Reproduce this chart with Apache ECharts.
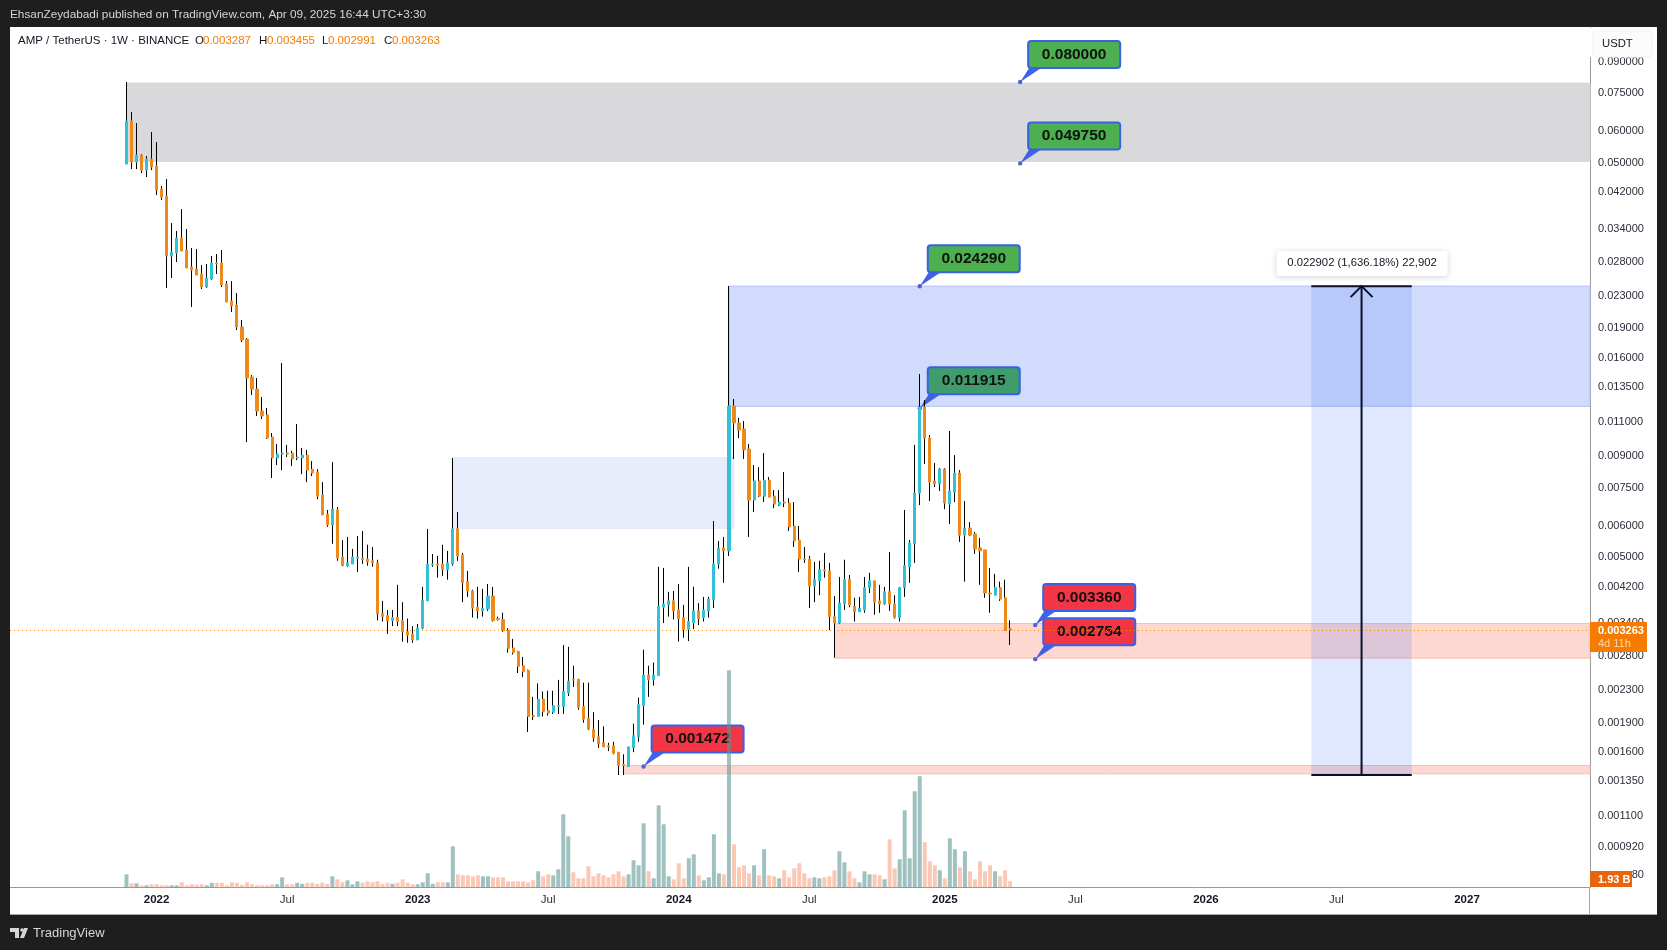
<!DOCTYPE html>
<html>
<head>
<meta charset="utf-8">
<title>AMP / TetherUS</title>
<style>
  html, body { margin: 0; height: 100%; background: #1e1e1e; overflow: hidden; }
  #chart-container { width: 1667px; height: 950px; }
</style>
</head>
<body>
<div id="chart-container"></div>
<script src="https://cdn.jsdelivr.net/npm/echarts@6/dist/echarts.min.js"></script>
<script>
// weekly candles
var opens = [
  0.04956,0.0637,0.05014,0.05222,0.04785,0.05102,0.04898,0.04283,0.04111,0.02897,
  0.02948,0.03218,0.03,0.02717,0.02685,0.02608,0.02418,0.02533,0.02781,0.02781,
  0.02461,0.02228,0.02176,0.01914,0.01784,0.01429,0.01332,0.01172,0.01146,0.01007,
  0.00891,0.00912,0.00917,0.00917,0.00891,0.00891,0.00906,0.00835,0.00821,0.00718,
  0.00642,0.00603,0.00658,0.005,0.00475,0.0048,0.00497,0.00497,0.00494,0.00489,
  0.00483,0.00359,0.00355,0.00345,0.00351,0.00345,0.00323,0.00319,0.00308,0.0033,
  0.00387,0.00477,0.0048,0.0048,0.00464,0.0048,0.00589,0.00506,0.00433,0.0041,
  0.00373,0.00365,0.00369,0.00398,0.00349,0.00347,0.00326,0.00294,0.00288,0.00265,
  0.00258,0.00198,0.00197,0.00218,0.00204,0.00202,0.00209,0.00209,0.00226,0.00245,
  0.00245,0.00209,0.00195,0.00183,0.00175,0.00169,0.00166,0.00166,0.0016,0.00149,
  0.00147,0.00164,0.00175,0.0021,0.00251,0.00244,0.0025,0.00373,0.00378,0.00387,
  0.00367,0.00351,0.00328,0.0034,0.00365,0.00351,0.00365,0.00389,0.0048,0.00527,
  0.00518,0.01207,0.01093,0.01055,0.00939,0.00697,0.00779,0.00713,0.00783,0.00713,
  0.00677,0.00689,0.00685,0.00599,0.00552,0.00494,0.00494,0.00422,0.00435,0.00464,
  0.00461,0.00353,0.0034,0.0038,0.00438,0.00375,0.00363,0.00367,0.00418,0.00435,
  0.00387,0.0038,0.00408,0.0038,0.00351,0.00418,0.00472,0.0054,0.00726,0.012,
  0.01001,0.00779,0.00766,0.00835,0.00681,0.0073,0.00816,0.00568,0.00592,0.00572,
  0.00527,0.00521,0.00405,0.004,0.00418,0.00394,0.003287
];
var highs = [
  0.08,0.06713,0.06295,0.05253,0.05192,0.05973,0.05634,0.04359,0.0454,0.03512,
  0.03352,0.03811,0.03391,0.03035,0.03017,0.02749,0.02765,0.02897,0.02931,0.03,
  0.02503,0.02503,0.02334,0.01994,0.01795,0.01446,0.01421,0.01272,0.01193,0.01031,
  0.00967,0.01551,0.00962,0.00929,0.01087,0.00945,0.00934,0.00875,0.00835,0.00774,
  0.00658,0.0087,0.00669,0.00552,0.00562,0.00524,0.00565,0.00582,0.00537,0.0053,
  0.00492,0.00387,0.00367,0.00367,0.00425,0.00384,0.00349,0.00334,0.00338,0.0042,
  0.00589,0.00509,0.00503,0.00537,0.00518,0.00891,0.0065,0.00512,0.00461,0.00413,
  0.0042,0.00415,0.00427,0.0042,0.00353,0.00361,0.0033,0.0031,0.00289,0.00279,
  0.00259,0.00221,0.00239,0.00228,0.00229,0.00229,0.00244,0.00299,0.00296,0.00265,
  0.00245,0.0024,0.0024,0.00202,0.00193,0.00186,0.00169,0.0017,0.0016,0.00158,
  0.00165,0.00189,0.0022,0.00291,0.00265,0.0027,0.00472,0.00469,0.00408,0.0041,
  0.00427,0.00378,0.00472,0.0042,0.00382,0.00396,0.00396,0.00617,0.00549,0.00562,
  0.02432,0.01257,0.01126,0.01106,0.00967,0.00855,0.00845,0.00917,0.00797,0.00739,
  0.00739,0.00821,0.00705,0.00689,0.00599,0.0053,0.00503,0.00486,0.00489,0.00512,
  0.00483,0.00398,0.00445,0.00492,0.0045,0.00394,0.00396,0.00445,0.00456,0.00435,
  0.00425,0.0042,0.00515,0.004,0.0042,0.00658,0.00552,0.00962,0.01455,0.0125,
  0.01019,0.00865,0.0084,0.0084,0.01043,0.00906,0.0083,0.00693,0.00613,0.00579,
  0.00559,0.00521,0.00469,0.00453,0.00433,0.00438,0.003455
];
var lows = [
  0.04956,0.04813,0.04813,0.04702,0.04594,0.04785,0.04135,0.04017,0.02404,0.02548,
  0.02797,0.02982,0.02701,0.02151,0.02592,0.0239,0.02404,0.02518,0.02608,0.02418,
  0.02214,0.02089,0.01881,0.01753,0.00978,0.01287,0.01139,0.01119,0.00996,0.00793,
  0.00855,0.0083,0.00896,0.0085,0.0088,0.00811,0.00774,0.00802,0.00701,0.00639,
  0.00596,0.0054,0.00489,0.00475,0.00472,0.0048,0.00458,0.0048,0.00475,0.00472,
  0.00345,0.00343,0.00319,0.00334,0.00334,0.00305,0.00303,0.00303,0.00308,0.00328,
  0.00387,0.00472,0.00443,0.00448,0.00438,0.00475,0.00489,0.00384,0.00396,0.00351,
  0.00349,0.00353,0.00365,0.00343,0.00345,0.00323,0.00286,0.00283,0.00254,0.00248,
  0.0018,0.00193,0.00197,0.00197,0.00198,0.002,0.002,0.002,0.00222,0.00234,
  0.00205,0.0019,0.00182,0.0017,0.00164,0.00165,0.00161,0.00158,0.0014,0.0014,
  0.00147,0.0016,0.0017,0.00188,0.00221,0.00236,0.0025,0.0034,0.00353,0.00347,
  0.00305,0.00312,0.00306,0.00328,0.00336,0.00343,0.00351,0.00371,0.00467,0.0043,
  0.00503,0.00886,0.01001,0.00886,0.00562,0.0065,0.00709,0.00689,0.00709,0.00665,
  0.00673,0.00669,0.00582,0.0053,0.00458,0.00483,0.00371,0.00384,0.004,0.00443,
  0.00326,0.00278,0.00338,0.00367,0.00373,0.00343,0.00363,0.00361,0.00405,0.00357,
  0.00361,0.00378,0.00365,0.00349,0.00343,0.00396,0.0043,0.00483,0.00677,0.0086,
  0.00693,0.00752,0.00735,0.00661,0.00606,0.00689,0.00546,0.00433,0.00565,0.00509,
  0.00425,0.00394,0.00361,0.004,0.00387,0.00325,0.002991
];
var closes = [
  0.0637,0.05014,0.05222,0.04785,0.05102,0.0487,0.04258,0.04087,0.02897,0.02965,
  0.03218,0.02982,0.02701,0.0267,0.02592,0.02418,0.02548,0.02781,0.02765,0.02446,
  0.02214,0.02164,0.01914,0.01774,0.01421,0.01332,0.01172,0.01139,0.01001,0.00891,
  0.00912,0.00917,0.00912,0.00886,0.00896,0.00906,0.0083,0.00816,0.00713,0.00639,
  0.00603,0.00661,0.00497,0.00475,0.00483,0.005,0.005,0.00492,0.00486,0.00483,
  0.00359,0.00353,0.00345,0.00351,0.00343,0.00323,0.00317,0.00308,0.0033,0.00389,
  0.0048,0.0048,0.00477,0.00464,0.00483,0.00589,0.00503,0.0043,0.0041,0.00371,
  0.00365,0.00371,0.00398,0.00345,0.00347,0.00325,0.00293,0.00286,0.00264,0.00256,
  0.00197,0.00197,0.00218,0.00203,0.00201,0.0021,0.0021,0.00228,0.00242,0.00244,
  0.00208,0.00194,0.00183,0.00174,0.00168,0.00165,0.00165,0.00159,0.00148,0.00148,
  0.00165,0.00176,0.00211,0.00251,0.00244,0.00251,0.00375,0.0038,0.00387,0.00365,
  0.00349,0.00328,0.00343,0.00365,0.00349,0.00367,0.00391,0.0048,0.00527,0.00518,
  0.01207,0.01093,0.01049,0.00934,0.00697,0.00779,0.00713,0.00783,0.00709,0.00681,
  0.00689,0.00685,0.00596,0.00549,0.00494,0.00492,0.00422,0.00438,0.00464,0.00461,
  0.00353,0.0034,0.00382,0.00438,0.00378,0.00363,0.00371,0.00418,0.00435,0.00384,
  0.0038,0.00408,0.0038,0.00351,0.00418,0.00475,0.00543,0.00726,0.012,0.01001,
  0.00774,0.00766,0.00835,0.00685,0.00735,0.00816,0.00568,0.00592,0.00568,0.00524,
  0.00518,0.00405,0.00403,0.00418,0.00391,0.00326,0.003263
];
// volume in billions
var volumes = [
  4.16,1.28,1.28,0.64,0.64,0.96,0.96,0.64,0.64,0.64,
  0.64,1.6,0.64,0.96,0.8,0.96,0.64,1.44,1.44,1.44,
  0.64,1.6,1.44,0.8,1.6,0.96,0.64,0.64,0.64,0.96,
  0.96,3.2,0.96,0.96,1.44,1.12,1.44,1.44,1.12,1.44,
  1.12,3.52,2.56,1.6,2.24,0.96,1.92,1.44,1.92,1.6,
  1.92,1.12,1.44,1.12,1.44,2.56,1.44,0.96,0.96,1.6,
  4.48,1.12,1.6,1.6,1.6,13.12,4.16,3.84,3.84,3.52,
  3.84,3.52,3.52,3.2,3.2,3.2,1.92,1.92,1.92,1.92,
  1.6,2.24,5.12,3.52,4.16,3.84,5.76,23.36,16.32,4.8,
  2.88,2.88,6.72,3.52,4.48,3.84,3.2,4.16,5.12,3.52,
  4.16,8.64,7.04,20.48,5.12,2.88,26.24,20.16,3.52,2.56,
  7.68,2.88,9.28,10.56,3.84,2.24,3.2,16.96,4.48,4.16,
  69.44,13.76,6.4,7.04,4.48,7.04,3.84,12.16,3.84,3.52,
  2.88,5.44,3.2,6.08,7.68,4.48,2.88,3.2,2.88,3.2,
  3.52,5.44,11.52,8,5.12,2.88,1.6,5.12,4.16,4.16,
  3.84,2.56,15.36,6.08,8.96,24.64,9.28,30.72,35.52,14.4,
  8.32,7.04,5.44,2.88,15.68,12.16,6.4,11.52,5.12,2.56,
  8.32,5.12,7.04,5.12,3.52,5.44,1.93
];
var priceTicks = [0.09,0.075,0.06,0.05,0.042,0.034,0.028,0.023,0.019,0.016,0.0135,0.011,0.009,0.0075,0.006,0.005,0.0042,0.0034,0.0028,0.0023,0.0019,0.0016,0.00135,0.0011,0.00092,0.00078];
var timeTicks = {
  "2022-01-03": "2022", "2022-07-04": "Jul", "2023-01-02": "2023", "2023-07-03": "Jul",
  "2024-01-01": "2024", "2024-07-01": "Jul", "2025-01-06": "2025", "2025-07-07": "Jul",
  "2026-01-05": "2026", "2026-07-06": "Jul", "2027-01-04": "2027"
};
var lastClose = 0.003263;

// weekly slots: 23 empty before the first candle, empty ones after the last
var leadWeeks = 23;
var totalWeeks = 315;
var firstWeek = Date.UTC(2021, 10, 22);
var categories = [];
for (var w = 0; w < totalWeeks; w++) {
  categories.push(new Date(firstWeek + (w - leadWeeks) * 7 * 864e5).toISOString().slice(0, 10));
}
function week(c) { return categories[c + leadWeeks]; }

// drawings: [first candle slot, top price, bottom price]
var zones = [
  { from: 0, top: 0.0795, bottom: 0.0503, fill: "#d9d9dc", line: "#d9d9dc" },
  { from: 120, top: 0.0243, bottom: 0.01205, fill: "#d1dbfb", line: "#b3bdf2" },
  { from: 65, to: 121, top: 0.00892, bottom: 0.00591, fill: "#e8edfb", line: "#e2e7f9" },
  { from: 141, top: 0.00339, bottom: 0.00277, fill: "#fdd8d0", line: "#f6c0b4" },
  { from: 99, top: 0.00148, bottom: 0.00141, fill: "#fdd8d0", line: "#f6c0b4" }
];
var measure = { from: 236, to: 256, mid: 246, top: 0.0243, bottom: 0.0014, text: "0.022902 (1,636.18%) 22,902" };
var callouts = [
  { text: "0.080000", slot: 178, price: 0.08, fill: "#4caf50" },
  { text: "0.049750", slot: 178, price: 0.04975, fill: "#4caf50" },
  { text: "0.024290", slot: 158, price: 0.02429, fill: "#4caf50" },
  { text: "0.011915", slot: 158, price: 0.011915, fill: "#3f9c6b" },
  { text: "0.003360", slot: 181, price: 0.00336, fill: "#f23645" },
  { text: "0.002754", slot: 181, price: 0.002754, fill: "#f23645" },
  { text: "0.001472", slot: 103, price: 0.001472, fill: "#f23645" }
];

var UP = "#33c1d6";
var DOWN = "#ee8a1c";
var FONT = '"Liberation Sans", Arial, sans-serif';

// leading empty slots so every candle lands on its own week
function padded(list, empty) {
  var lead = [];
  for (var i = 0; i < leadWeeks; i++) lead.push(empty);
  return lead.concat(list);
}
var noCandle = ["-", "-", "-", "-"];
var wickData = padded(opens.map(function (o, i) {
  return [o, closes[i], lows[i], highs[i]];
}), noCandle);
var bodyData = padded(opens.map(function (o, i) {
  return [o, closes[i], Math.min(o, closes[i]), Math.max(o, closes[i])];
}), noCandle);
var volumeData = padded(volumes.map(function (v, i) {
  return {
    value: v,
    itemStyle: { color: closes[i] >= opens[i] ? "rgba(90,150,146,0.58)" : "rgba(244,140,100,0.48)" }
  };
}), "-");

var zoneAreas = zones.map(function (z) {
  var end = z.to != null ? { xAxis: week(z.to), yAxis: z.bottom } : { yAxis: z.bottom };
  return [
    { xAxis: week(z.from), yAxis: z.top, itemStyle: { color: z.fill, borderColor: z.line, borderWidth: 1 } },
    end
  ];
});
zoneAreas.push([
  { xAxis: week(measure.from), yAxis: measure.top, itemStyle: { color: "rgba(41,98,255,0.15)" } },
  { xAxis: week(measure.to), yAxis: measure.bottom }
]);

var dom = document.getElementById("chart-container");
var myChart = echarts.init(dom, null, { renderer: "canvas" });

var option = {
  animation: false,
  backgroundColor: "#1e1e1e",
  textStyle: { fontFamily: FONT },
  grid: [
    { left: 8.5, right: 77, top: 27, bottom: 62.7 },
    { left: 8.5, right: 77, top: 670, bottom: 62.7 }
  ],
  xAxis: [
    {
      type: "category",
      gridIndex: 0,
      data: categories,
      boundaryGap: true,
      axisLine: { show: true, onZero: false, lineStyle: { color: "#9a9a9a" } },
      axisTick: { show: false },
      splitLine: { show: false },
      axisLabel: {
        interval: function (i, v) { return timeTicks[v] != null; },
        formatter: function (v) {
          var t = timeTicks[v] || "";
          return t === "Jul" ? t : "{y|" + t + "}";
        },
        hideOverlap: false,
        margin: 7,
        fontSize: 11.5,
        color: "#2a2e39",
        fontFamily: FONT,
        rich: { y: { fontSize: 11.5, fontWeight: "bold", color: "#131722", fontFamily: FONT } }
      }
    },
    { type: "category", gridIndex: 1, data: categories, show: false }
  ],
  yAxis: [
    {
      type: "log",
      gridIndex: 0,
      position: "right",
      min: 0.000727,
      max: 0.1103,
      axisLine: { show: true, lineStyle: { color: "#9a9a9a" } },
      axisTick: { show: false },
      splitLine: { show: false },
      minorTick: { show: false },
      axisLabel: {
        customValues: priceTicks,
        formatter: function (v) { return Number(v).toFixed(6); },
        margin: 8,
        fontSize: 11,
        color: "#2a2e39",
        fontFamily: FONT,
        showMinLabel: true,
        showMaxLabel: true,
        hideOverlap: false
      }
    },
    { type: "value", gridIndex: 1, min: 0, max: 69.5, show: false }
  ],
  series: [
    {
      name: "wick",
      type: "candlestick",
      xAxisIndex: 0,
      yAxisIndex: 0,
      z: 6,
      barWidth: 1,
      data: wickData,
      itemStyle: { color: "#000", color0: "#000", borderColor: "#000", borderColor0: "#000", borderColorDoji: "#000", borderWidth: 1 },
      markArea: { silent: true, z: 1, data: zoneAreas }
    },
    {
      name: "body",
      type: "candlestick",
      xAxisIndex: 0,
      yAxisIndex: 0,
      z: 7,
      barWidth: 2.6,
      data: bodyData,
      itemStyle: { color: UP, color0: DOWN, borderColor: UP, borderColor0: DOWN, borderColorDoji: DOWN, borderWidth: 1 }
    },
    {
      name: "volume",
      type: "bar",
      xAxisIndex: 1,
      yAxisIndex: 1,
      z: 8,
      barWidth: 4,
      data: volumeData
    }
  ]
};
myChart.setOption(option);

function px(slot, price) {
  return myChart.convertToPixel({ xAxisIndex: 0, yAxisIndex: 0 }, [slot + leadWeeks, price]);
}
function label(x, y, text, color, size, weight, align) {
  return {
    type: "text", x: x, y: y, z: 60, silent: true,
    style: { text: text, fill: color, fontSize: size, fontWeight: weight || "normal", fontFamily: FONT, textAlign: align || "left", textVerticalAlign: "middle" }
  };
}
function box(x, y, w, h, fill, z) {
  return { type: "rect", z: z, silent: true, shape: { x: x, y: y, width: w, height: h }, style: { fill: fill } };
}

var priceY = Math.round(px(0, lastClose)[1]) + 0.5;

var els = [
  box(10, 27, 1647, 888, "#ffffff", -10),
  // last price line
  { type: "line", z: 4, silent: true, shape: { x1: 10, y1: priceY, x2: 1590, y2: priceY }, style: { stroke: "#ee8a1c", lineWidth: 1, lineDash: [1, 3] } },
  // frame over the chart edges
  box(0, 0, 10, 950, "#1e1e1e", 50),
  box(1657, 0, 10, 950, "#1e1e1e", 50),
  { type: "line", z: 50, silent: true, shape: { x1: 10, y1: 914.5, x2: 1657, y2: 914.5 }, style: { stroke: "#a8a8a8", lineWidth: 1 } },
  { type: "line", z: 50, silent: true, shape: { x1: 1589.5, y1: 887, x2: 1589.5, y2: 915 }, style: { stroke: "#a8a8a8", lineWidth: 1 } },
  // header and footer
  label(10, 15, "EhsanZeydabadi published on TradingView.com, Apr 09, 2025 16:44 UTC+3:30", "#d6d6d6", 11.8),
  label(33, 933, "TradingView", "#d6d6d6", 13),
  { type: "polygon", z: 60, silent: true, shape: { points: [[10, 928], [19, 928], [19, 938], [15, 938], [15, 932], [10, 932]] }, style: { fill: "#d6d6d6" } },
  { type: "polygon", z: 60, silent: true, shape: { points: [[24, 928], [28, 928], [24, 938], [20, 938]] }, style: { fill: "#d6d6d6" } },
  { type: "circle", z: 60, silent: true, shape: { cx: 22, cy: 930, r: 1.8 }, style: { fill: "#d6d6d6" } },
  // legend line
  label(18, 41, "AMP / TetherUS · 1W · BINANCE", "#131722", 11.5),
  label(195, 41, "O", "#131722", 11.5), label(203, 41, "0.003287", "#f57c00", 11.5),
  label(259, 41, "H", "#131722", 11.5), label(267, 41, "0.003455", "#f57c00", 11.5),
  label(322, 41, "L", "#131722", 11.5), label(328, 41, "0.002991", "#f57c00", 11.5),
  label(384, 41, "C", "#131722", 11.5), label(392, 41, "0.003263", "#f57c00", 11.5),
  // price scale extras
  box(1590, 28, 66, 29, "#ffffff", 40),
  { type: "rect", z: 41, silent: true, shape: { x: 1593, y: 31, width: 59, height: 26, r: 3 }, style: { fill: "#fcfcfc", stroke: "#f3f3f3", lineWidth: 1 } },
  label(1602, 44, "USDT", "#131722", 11.3),
  box(1590, 622, 57, 30, "#f57c00", 45),
  label(1598, 631, "0.003263", "#ffffff", 11, "bold"),
  label(1598, 644, "4d 11h", "#fbd9b0", 11),
  box(1591, 865, 42, 6, "#ffffff", 44),
  box(1590, 871, 42, 16, "#e8650e", 45),
  label(1598, 880, "1.93 B", "#ffffff", 11, "bold")
];

// TradingView style callouts; volume and candles stay on top of them
callouts.forEach(function (c) {
  var a = px(c.slot, c.price);
  var bx = a[0] + 8, by = a[1] - 41;
  els.push({ type: "polygon", z: 3, silent: true, shape: { points: [[a[0], a[1]], [bx + 1, by + 27], [bx + 13, by + 27]] }, style: { fill: "#3f62e6" } });
  els.push({ type: "circle", z: 3, silent: true, shape: { cx: a[0], cy: a[1], r: 2.2 }, style: { fill: "#5560d8" } });
  els.push({ type: "rect", z: 3, silent: true, shape: { x: bx, y: by, width: 92, height: 27, r: 3 }, style: { fill: c.fill, stroke: "#3861e8", lineWidth: 2 } });
  els.push({ type: "text", z: 3, silent: true, x: bx + 46, y: by + 13.5, style: { text: c.text, fill: "#111", fontSize: 15.5, fontWeight: "bold", fontFamily: FONT, textAlign: "center", textVerticalAlign: "middle" } });
});

// price range tool
var mTop = px(measure.mid, measure.top), mBot = px(measure.mid, measure.bottom);
var mL = px(measure.from, measure.top)[0], mR = px(measure.to, measure.top)[0];
els.push({ type: "line", z: 9, silent: true, shape: { x1: mL, y1: mTop[1], x2: mR, y2: mTop[1] }, style: { stroke: "#0b0f2a", lineWidth: 2 } });
els.push({ type: "line", z: 9, silent: true, shape: { x1: mL, y1: mBot[1], x2: mR, y2: mBot[1] }, style: { stroke: "#0b0f2a", lineWidth: 2 } });
els.push({ type: "line", z: 9, silent: true, shape: { x1: mTop[0], y1: mTop[1], x2: mBot[0], y2: mBot[1] }, style: { stroke: "#0b0f2a", lineWidth: 2 } });
els.push({ type: "polyline", z: 9, silent: true, shape: { points: [[mTop[0] - 11, mTop[1] + 11], [mTop[0], mTop[1]], [mTop[0] + 11, mTop[1] + 11]] }, style: { stroke: "#0b0f2a", lineWidth: 2, fill: "none" } });
els.push({ type: "rect", z: 9, silent: true, shape: { x: mTop[0] - 85, y: 251, width: 171, height: 25, r: 3 }, style: { fill: "#fff", shadowBlur: 6, shadowColor: "rgba(0,0,0,0.18)", shadowOffsetY: 1 } });
els.push({ type: "text", z: 9, silent: true, x: mTop[0] + 0.5, y: 263, style: { text: measure.text, fill: "#131722", fontSize: 11.3, fontFamily: FONT, textAlign: "center", textVerticalAlign: "middle" } });

myChart.setOption({ graphic: { elements: els } });

window.addEventListener("resize", myChart.resize);
</script>
</body>
</html>
